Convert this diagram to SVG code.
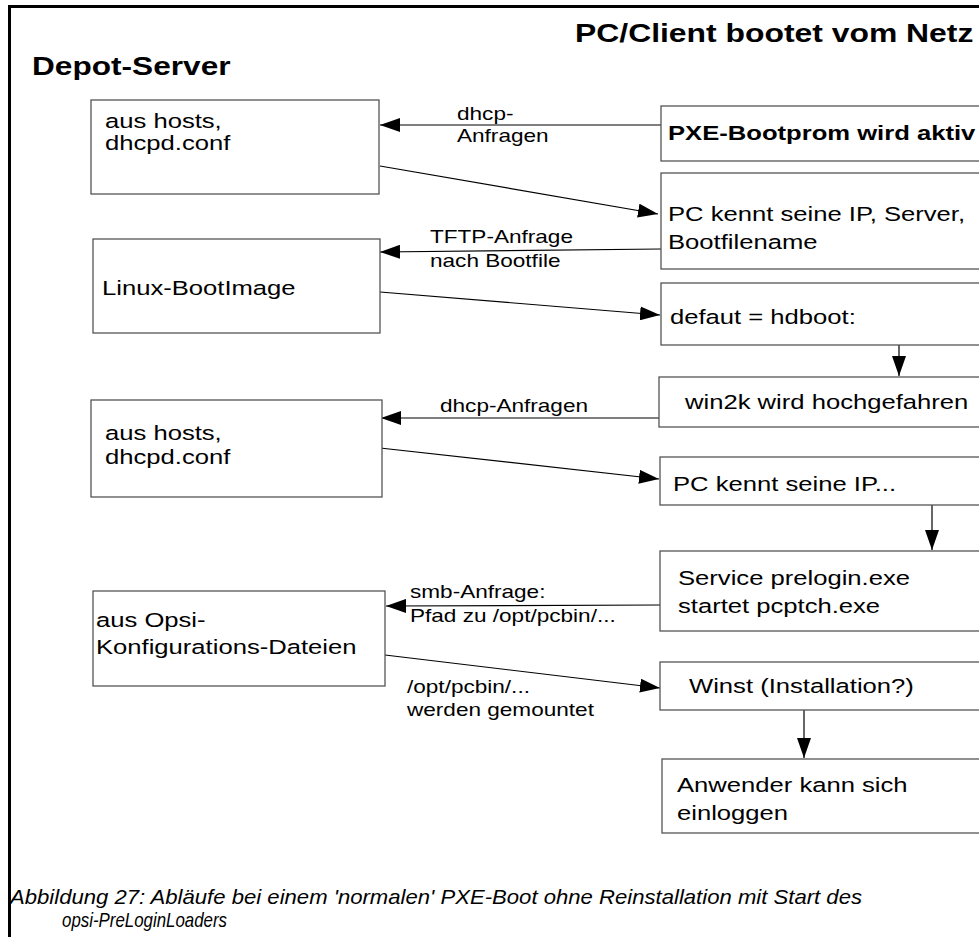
<svg xmlns="http://www.w3.org/2000/svg" width="979" height="937" viewBox="0 0 979 937">
<style>
text{font-family:"Liberation Sans",Arial,sans-serif;fill:#000}
.box{fill:#fff;stroke:#555;stroke-width:1.3}
.bt{font-size:20.5px}
.lb{font-size:17.5px}
.ti{font-size:25.5px;font-weight:bold}
.bb{font-size:20.5px;font-weight:bold}
.cap{font-size:21px;font-style:italic}
.con{fill:none;stroke:#000;stroke-width:1.2}
</style>
<defs>
<marker id="ah" markerUnits="userSpaceOnUse" markerWidth="20" markerHeight="14" refX="20" refY="7" orient="auto">
<path d="M0,0 L20,7 L0,14 z" fill="#000"/>
</marker>
</defs>
<rect width="979" height="937" fill="#fff"/>
<path d="M9.5,937 V6.5 H979" fill="none" stroke="#000" stroke-width="3"/>

<g id="titles">
<text class="ti" transform="translate(32,75) scale(1.24,1)">Depot-Server</text>
<text class="ti" transform="translate(575,42) scale(1.25,1)">PC/Client bootet vom Netz</text>
</g>

<g id="connectors">
<path class="con" d="M661,125 L380,125" marker-end="url(#ah)"/>
<path class="con" d="M380,166 L658,214" marker-end="url(#ah)"/>
<path class="con" d="M661,249 L380,252" marker-end="url(#ah)"/>
<path class="con" d="M380,292 L660,315" marker-end="url(#ah)"/>
<path class="con" d="M659,418 L381,418" marker-end="url(#ah)"/>
<path class="con" d="M380,448 L659,479" marker-end="url(#ah)"/>
<path class="con" d="M660,605 L386,606" marker-end="url(#ah)"/>
<path class="con" d="M385,655 L660,688" marker-end="url(#ah)"/>
<path class="con" d="M899,314 L899,376" marker-end="url(#ah)"/>
<path class="con" d="M932,483 L932,550" marker-end="url(#ah)"/>
<path class="con" d="M804,710 L804,758" marker-end="url(#ah)"/>
<text class="lb" transform="translate(457,120) scale(1.29,1)"><tspan x="0" y="0">dhcp-</tspan><tspan x="0" y="22">Anfragen</tspan></text>
<text class="lb" transform="translate(430,243) scale(1.29,1)"><tspan x="0" y="0">TFTP-Anfrage</tspan><tspan x="0" y="24">nach Bootfile</tspan></text>
<text class="lb" transform="translate(440,412) scale(1.29,1)">dhcp-Anfragen</text>
<text class="lb" transform="translate(410,598) scale(1.29,1)"><tspan x="0" y="0">smb-Anfrage:</tspan><tspan x="0" y="24">Pfad zu /opt/pcbin/...</tspan></text>
<text class="lb" transform="translate(407,693) scale(1.29,1)"><tspan x="0" y="0">/opt/pcbin/...</tspan><tspan x="0" y="23">werden gemountet</tspan></text>
</g>

<g id="dhcp1">
<rect class="box" x="91" y="100" width="288" height="94"/>
<text class="bt" transform="translate(105,128) scale(1.25,1)"><tspan x="0" y="0">aus hosts,</tspan><tspan x="0" y="22">dhcpd.conf</tspan></text>
</g>
<g id="bootimage">
<rect class="box" x="93" y="239" width="287" height="94"/>
<text class="bt" transform="translate(102,295) scale(1.25,1)">Linux-BootImage</text>
</g>
<g id="dhcp2">
<rect class="box" x="91" y="400" width="291" height="97"/>
<text class="bt" transform="translate(105,440) scale(1.25,1)"><tspan x="0" y="0">aus hosts,</tspan><tspan x="0" y="24">dhcpd.conf</tspan></text>
</g>
<g id="opsiconf">
<rect class="box" x="93" y="591" width="292" height="95"/>
<text class="bt" transform="translate(96,627) scale(1.25,1)"><tspan x="0" y="0">aus Opsi-</tspan><tspan x="0" y="27">Konfigurations-Dateien</tspan></text>
</g>

<g id="pxe">
<rect class="box" x="661" y="106" width="330" height="55"/>
<text class="bb" transform="translate(668,140) scale(1.25,1)">PXE-Bootprom wird aktiv</text>
</g>
<g id="pcip1">
<rect class="box" x="661" y="173" width="330" height="96"/>
<text class="bt" transform="translate(668,221) scale(1.25,1)"><tspan x="0" y="0">PC kennt seine IP, Server,</tspan><tspan x="0" y="28">Bootfilename</tspan></text>
</g>
<g id="hdboot">
<rect class="box" x="661" y="283" width="330" height="62"/>
<text class="bt" transform="translate(670,324) scale(1.25,1)">defaut = hdboot:</text>
</g>
<g id="win2k">
<rect class="box" x="659" y="377" width="332" height="50"/>
<text class="bt" transform="translate(685,409) scale(1.25,1)">win2k wird hochgefahren</text>
</g>
<g id="pcip2">
<rect class="box" x="660" y="457" width="331" height="48"/>
<text class="bt" transform="translate(673,491) scale(1.25,1)">PC kennt seine IP...</text>
</g>
<g id="prelogin">
<rect class="box" x="660" y="551" width="331" height="80"/>
<text class="bt" transform="translate(678,585) scale(1.25,1)"><tspan x="0" y="0">Service prelogin.exe</tspan><tspan x="0" y="28">startet pcptch.exe</tspan></text>
</g>
<g id="winst">
<rect class="box" x="660" y="662" width="331" height="48"/>
<text class="bt" transform="translate(689,693) scale(1.25,1)">Winst (Installation?)</text>
</g>
<g id="login">
<rect class="box" x="662" y="759" width="329" height="74"/>
<text class="bt" transform="translate(677,792) scale(1.25,1)"><tspan x="0" y="0">Anwender kann sich</tspan><tspan x="0" y="28">einloggen</tspan></text>
</g>

<g id="caption">
<text class="cap" x="10" y="904" textLength="852" lengthAdjust="spacingAndGlyphs">Abbildung 27: Abläufe bei einem 'normalen' PXE-Boot ohne Reinstallation mit Start des</text>
<text class="cap" x="62" y="927" textLength="165" lengthAdjust="spacingAndGlyphs">opsi-PreLoginLoaders</text>
</g>
</svg>
